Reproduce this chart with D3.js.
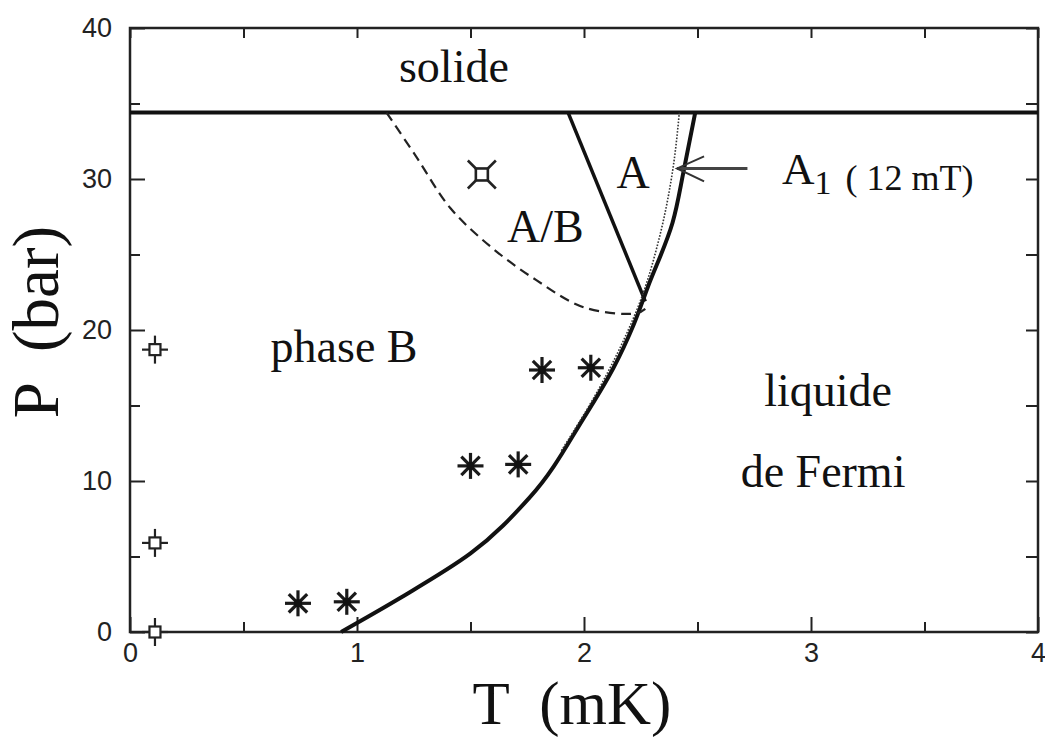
<!DOCTYPE html>
<html>
<head>
<meta charset="utf-8">
<script src="https://cdn.jsdelivr.net/npm/d3@7/dist/d3.min.js"></script>
<style>
  html, body { margin: 0; padding: 0; background: #fff; }
  svg { display: block; }
</style>
</head>
<body>
<svg id="chart" width="1045" height="740"></svg>
<script>
// Phase diagram of superfluid helium-3: pressure vs temperature

// Superfluid transition line Tc(P)
const tcT = [0.93, 1.19, 1.50, 1.76, 2.00, 2.13, 2.22, 2.28, 2.39, 2.44, 2.49];
const tcP = [0.0, 2.25, 5.2, 8.9, 14.2, 17.5, 20.4, 22.8, 27.1, 30.6, 34.4];

// A-B first-order transition line
const abT = [2.27, 1.93];
const abP = [21.9, 34.4];

// A-B transition under supercooling (dashed)
const dashT = [1.13, 1.26, 1.41, 1.59, 1.79, 2.00, 2.23, 2.27];
const dashP = [34.4, 31.5, 28.1, 25.5, 23.3, 21.5, 21.1, 21.4];

// A1 phase boundary at 12 mT (dotted)
const a1T = [1.90, 2.08, 2.18, 2.25, 2.33, 2.39, 2.42];
const a1P = [12.0, 16.5, 19.5, 22.0, 26.0, 30.5, 34.4];

// Melting pressure
const meltP = 34.4;

// Measurements near T = 0
const zeroT = [0.11, 0.11, 0.11];
const zeroP = [0.0, 5.9, 18.7];

// Asterisk data points
const starT = [0.74, 0.955, 1.50, 1.71, 1.815, 2.03];
const starP = [1.9, 2.0, 11.0, 11.1, 17.35, 17.5];

// Box-shaped point in the A/B region
const boxT = [1.55];
const boxP = [30.3];

// Arrow pointing to the A1 line
const arrowT = [2.72, 2.41];
const arrowP = [30.7, 30.7];

// Axis ticks
const xMajor = [0, 1, 2, 3, 4];
const xMinor = [0.5, 1.5, 2.5, 3.5];
const yMajor = [0, 10, 20, 30, 40];
const yMinor = [5, 15, 25, 35];

// Region labels
const regionText = ["solide", "A/B", "A", "phase B", "liquide", "de Fermi"];
const regionT = [1.427, 1.83, 2.216, 0.943, 3.075, 3.053];
const regionP = [36.4, 25.8, 29.4, 17.9, 15.0, 9.6];

const svg = d3.select("#chart");
const x = d3.scaleLinear().domain([0, 4]).range([130, 1038]);
const y = d3.scaleLinear().domain([0, 40]).range([632, 28]);

const serif = "'Liberation Serif', 'Times New Roman', serif";
const sans = "'Liberation Sans', Arial, sans-serif";
const ink = "#111";

const zip = (a, b) => a.map((v, i) => [v, b[i]]);
const line = d3.line().x(d => x(d[0])).y(d => y(d[1]));
const smooth = d3.line().x(d => x(d[0])).y(d => y(d[1])).curve(d3.curveMonotoneY);
const smoothXY = d3.line().x(d => x(d[0])).y(d => y(d[1])).curve(d3.curveCatmullRom.alpha(0.5));

// Axes: ticks on all four sides, pointing inward
function styleAxis(g) {
  g.select(".domain").remove();
  g.selectAll(".tick line").attr("stroke", "#222").attr("stroke-width", 2);
  g.selectAll(".tick text").attr("font-family", sans).attr("font-size", 27).attr("fill", "#222");
}
const plotH = 632 - 28, plotW = 1038 - 130;

svg.append("g").attr("transform", "translate(0,632)")
  .call(d3.axisBottom(x).tickValues(xMajor).tickSize(-15).tickPadding(11).tickFormat(d3.format("d")))
  .call(styleAxis);
svg.append("g").attr("transform", "translate(0,632)")
  .call(d3.axisBottom(x).tickValues(xMinor).tickSize(-10).tickFormat(""))
  .call(styleAxis);
svg.append("g").attr("transform", "translate(0,28)")
  .call(d3.axisTop(x).tickValues(xMajor.concat(xMinor)).tickSize(-10).tickFormat(""))
  .call(styleAxis);
svg.append("g").attr("transform", "translate(130,0)")
  .call(d3.axisLeft(y).tickValues(yMajor).tickSize(-15).tickPadding(18).tickFormat(d3.format("d")))
  .call(styleAxis);
svg.append("g").attr("transform", "translate(130,0)")
  .call(d3.axisLeft(y).tickValues(yMinor).tickSize(-10).tickFormat(""))
  .call(styleAxis);
svg.append("g").attr("transform", "translate(1038,0)")
  .call(d3.axisRight(y).tickValues(yMajor.concat(yMinor)).tickSize(-12).tickFormat(""))
  .call(styleAxis);

// Frame
svg.append("rect")
  .attr("x", x(0)).attr("y", y(40))
  .attr("width", plotW).attr("height", plotH)
  .attr("fill", "none").attr("stroke", "#222").attr("stroke-width", 2.5);

// Melting line
svg.append("path")
  .attr("d", line([[0, meltP], [4, meltP]]))
  .attr("stroke", ink).attr("stroke-width", 4).attr("fill", "none");

// Tc line
svg.append("path")
  .attr("d", smooth(zip(tcT, tcP)))
  .attr("stroke", ink).attr("stroke-width", 4).attr("fill", "none");

// A-B line
svg.append("path")
  .attr("d", line(zip(abT, abP)))
  .attr("stroke", ink).attr("stroke-width", 3.5).attr("fill", "none");

// Dashed supercooling line
svg.append("path")
  .attr("d", smoothXY(zip(dashT, dashP)))
  .attr("stroke", "#222").attr("stroke-width", 2.2)
  .attr("stroke-dasharray", "10,6").attr("fill", "none");

// Dotted A1 line
svg.append("path")
  .attr("d", smooth(zip(a1T, a1P)))
  .attr("stroke", "#333").attr("stroke-width", 1.6)
  .attr("stroke-dasharray", "1.6,1.6").attr("fill", "none");

// Open squares with error bars near T = 0
const zeroG = svg.append("g").attr("stroke", "#222").attr("stroke-width", 2.2).attr("fill", "#fff");
zip(zeroT, zeroP).forEach(([t, p]) => {
  const cx = x(t), cy = y(p);
  zeroG.append("line").attr("x1", cx - 13).attr("x2", cx + 13).attr("y1", cy).attr("y2", cy);
  zeroG.append("line").attr("x1", cx).attr("x2", cx).attr("y1", cy - 14).attr("y2", cy + 14);
  zeroG.append("rect").attr("x", cx - 5.5).attr("y", cy - 5.5).attr("width", 11).attr("height", 11);
});

// Box with corner tails
const boxG = svg.append("g").attr("stroke", "#222").attr("stroke-width", 2.6).attr("fill", "none");
zip(boxT, boxP).forEach(([t, p]) => {
  const cx = x(t), cy = y(p), h = 6;
  boxG.append("rect").attr("x", cx - h).attr("y", cy - h).attr("width", 2 * h).attr("height", 2 * h);
  [[-1, -1], [1, -1], [1, 1], [-1, 1]].forEach(([sx, sy]) => {
    boxG.append("line")
      .attr("x1", cx + sx * h).attr("y1", cy + sy * h)
      .attr("x2", cx + sx * (h + 8)).attr("y2", cy + sy * (h + 8));
  });
});

// Asterisks
const starG = svg.append("g").attr("stroke", "#1a1a1a").attr("stroke-width", 3.2).attr("stroke-linecap", "butt");
zip(starT, starP).forEach(([t, p]) => {
  const cx = x(t), cy = y(p), r = 13;
  for (let k = 0; k < 4; k++) {
    const a = k * Math.PI / 4;
    starG.append("line")
      .attr("x1", cx - r * Math.cos(a)).attr("y1", cy - r * Math.sin(a))
      .attr("x2", cx + r * Math.cos(a)).attr("y2", cy + r * Math.sin(a));
  }
  starG.append("circle").attr("cx", cx).attr("cy", cy).attr("r", 4).attr("fill", "#111").attr("stroke", "none");
});

// Arrow to the A1 line
const ax0 = x(arrowT[0]), ax1 = x(arrowT[1]), ay = y(arrowP[0]);
svg.append("line")
  .attr("x1", ax0).attr("y1", ay).attr("x2", ax1).attr("y2", ay)
  .attr("stroke", "#444").attr("stroke-width", 3);
svg.append("path")
  .attr("d", `M${ax1 + 27},${ay - 12} L${ax1},${ay} L${ax1 + 27},${ay + 13}`)
  .attr("stroke", "#333").attr("stroke-width", 2).attr("fill", "none");

// Region labels
svg.append("g").selectAll("text")
  .data(regionText)
  .join("text")
  .attr("x", (d, i) => x(regionT[i]))
  .attr("y", (d, i) => y(regionP[i]))
  .attr("text-anchor", "middle")
  .attr("font-family", serif)
  .attr("font-size", 46)
  .attr("fill", "#111")
  .text(d => d);

// A1 label with subscript
const a1Label = svg.append("text")
  .attr("x", x(2.872)).attr("y", y(29.7))
  .attr("font-family", serif).attr("fill", "#111");
a1Label.append("tspan").attr("font-size", 45).text("A");
a1Label.append("tspan").attr("font-size", 34).attr("dy", 10).text("1");
a1Label.append("tspan").attr("font-size", 36).attr("dx", 14).attr("dy", -4).text("( 12 mT)");

// Axis titles
svg.append("text")
  .attr("x", 572).attr("y", 724)
  .attr("text-anchor", "middle")
  .attr("font-family", serif).attr("font-size", 61).attr("fill", "#111")
  .attr("xml:space", "preserve")
  .text("T  (mK)");
svg.append("text")
  .attr("transform", "translate(58,322) rotate(-90)")
  .attr("text-anchor", "middle")
  .attr("font-family", serif).attr("font-size", 65).attr("fill", "#111")
  .attr("xml:space", "preserve")
  .text("P  (bar)");
</script>
</body>
</html>
